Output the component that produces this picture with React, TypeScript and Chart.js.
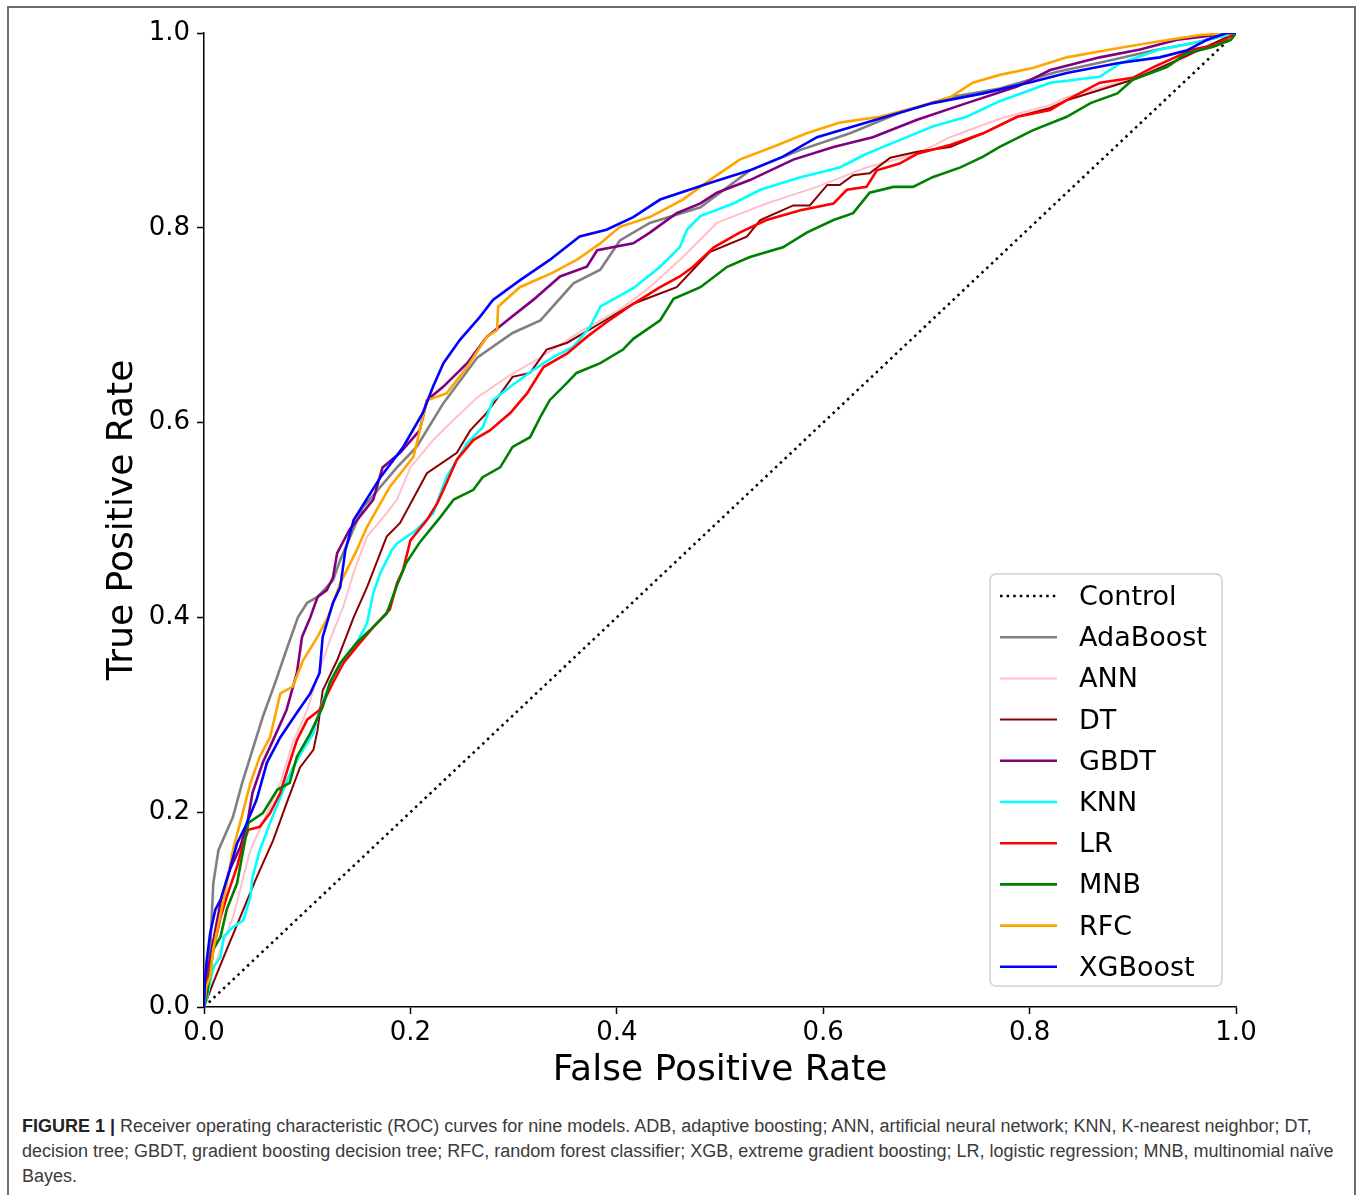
import React, { useEffect, useRef } from "react";
import { Chart, registerables } from "chart.js";

Chart.register(...registerables);

type Pt = [number, number];

const modelNames = ["Control", "AdaBoost", "ANN", "DT", "GBDT", "KNN", "LR", "MNB", "RFC", "XGBoost"];
const modelColors = ["#000000", "#808080", "#ffc0cb", "#8b0000", "#800080", "#00ffff", "#ff0000", "#008000", "#ffa500", "#0000ff"];
const tickValues = [0, 0.2, 0.4, 0.6, 0.8, 1.0];

const control: Pt[] = [[0, 0], [1, 1]];

const adaBoost: Pt[] = [[0,0],[0.003,0.048],[0.006,0.059],[0.009,0.127],[0.014,0.161],[0.028,0.195],[0.037,0.23],[0.047,0.264],[0.057,0.298],[0.069,0.333],[0.080,0.367],[0.091,0.400],[0.100,0.415],[0.110,0.421],[0.125,0.438],[0.132,0.459],[0.154,0.513],[0.187,0.554],[0.206,0.575],[0.232,0.620],[0.265,0.667],[0.299,0.692],[0.326,0.705],[0.358,0.743],[0.384,0.757],[0.403,0.787],[0.432,0.805],[0.481,0.821],[0.529,0.859],[0.578,0.880],[0.626,0.897],[0.674,0.918],[0.723,0.934],[0.771,0.943],[0.826,0.96],[0.87,0.97],[0.92,0.982],[0.96,0.99],[1,1]];

const ann: Pt[] = [[0,0],[0.006,0.028],[0.016,0.059],[0.028,0.092],[0.045,0.161],[0.061,0.199],[0.074,0.23],[0.086,0.271],[0.1,0.305],[0.11,0.339],[0.122,0.377],[0.135,0.411],[0.145,0.446],[0.158,0.483],[0.177,0.507],[0.187,0.521],[0.2,0.554],[0.222,0.582],[0.245,0.606],[0.265,0.626],[0.294,0.647],[0.326,0.667],[0.367,0.695],[0.403,0.716],[0.432,0.739],[0.464,0.77],[0.497,0.805],[0.545,0.825],[0.594,0.842],[0.642,0.862],[0.691,0.876],[0.723,0.893],[0.771,0.912],[0.820,0.926],[0.836,0.934],[0.885,0.949],[0.933,0.965],[0.965,0.983],[1,1]];

const dt: Pt[] = [[0,0],[0.009,0.025],[0.022,0.059],[0.035,0.092],[0.051,0.133],[0.067,0.171],[0.08,0.209],[0.093,0.246],[0.106,0.264],[0.11,0.284],[0.115,0.325],[0.129,0.356],[0.145,0.4],[0.158,0.431],[0.177,0.483],[0.19,0.497],[0.216,0.548],[0.245,0.569],[0.258,0.592],[0.274,0.61],[0.299,0.647],[0.316,0.651],[0.332,0.675],[0.352,0.682],[0.384,0.702],[0.416,0.722],[0.458,0.739],[0.49,0.775],[0.526,0.791],[0.539,0.808],[0.571,0.823],[0.587,0.823],[0.604,0.844],[0.616,0.844],[0.629,0.854],[0.645,0.856],[0.665,0.872],[0.691,0.878],[0.723,0.883],[0.755,0.897],[0.788,0.914],[0.82,0.923],[0.836,0.931],[0.9,0.952],[0.949,0.975],[1,1]];

const gbdt: Pt[] = [[0,0],[0.002,0.03],[0.006,0.051],[0.016,0.107],[0.025,0.141],[0.035,0.164],[0.042,0.189],[0.047,0.22],[0.057,0.251],[0.067,0.274],[0.08,0.305],[0.09,0.343],[0.095,0.38],[0.103,0.4],[0.11,0.421],[0.119,0.428],[0.125,0.441],[0.129,0.466],[0.141,0.49],[0.164,0.521],[0.173,0.554],[0.19,0.569],[0.209,0.592],[0.216,0.623],[0.232,0.637],[0.255,0.661],[0.274,0.688],[0.294,0.705],[0.319,0.726],[0.345,0.75],[0.371,0.76],[0.381,0.777],[0.416,0.784],[0.432,0.795],[0.458,0.815],[0.481,0.825],[0.497,0.836],[0.529,0.849],[0.571,0.870],[0.610,0.883],[0.648,0.893],[0.691,0.911],[0.739,0.928],[0.788,0.945],[0.820,0.962],[0.868,0.975],[0.907,0.983],[0.943,0.993],[0.981,0.998],[1,1]];

const knn: Pt[] = [[0,0],[0.003,0.01],[0.009,0.041],[0.016,0.051],[0.019,0.072],[0.028,0.082],[0.038,0.089],[0.045,0.113],[0.047,0.133],[0.054,0.161],[0.064,0.189],[0.077,0.223],[0.086,0.246],[0.096,0.264],[0.106,0.281],[0.112,0.305],[0.122,0.333],[0.132,0.353],[0.148,0.374],[0.158,0.394],[0.164,0.425],[0.171,0.446],[0.182,0.469],[0.187,0.476],[0.206,0.49],[0.222,0.507],[0.235,0.544],[0.255,0.579],[0.27,0.595],[0.28,0.623],[0.297,0.637],[0.319,0.654],[0.338,0.667],[0.358,0.678],[0.374,0.698],[0.384,0.719],[0.416,0.738],[0.442,0.76],[0.461,0.78],[0.468,0.798],[0.481,0.812],[0.513,0.825],[0.539,0.839],[0.578,0.852],[0.616,0.862],[0.642,0.876],[0.674,0.89],[0.706,0.904],[0.739,0.914],[0.771,0.93],[0.82,0.949],[0.868,0.955],[0.888,0.969],[0.926,0.983],[0.965,0.991],[1,1]];

const lr: Pt[] = [[0,0],[0.003,0.025],[0.009,0.059],[0.016,0.092],[0.022,0.113],[0.032,0.144],[0.038,0.168],[0.043,0.182],[0.054,0.185],[0.064,0.199],[0.074,0.22],[0.083,0.251],[0.09,0.274],[0.1,0.295],[0.112,0.305],[0.125,0.333],[0.135,0.353],[0.148,0.37],[0.164,0.39],[0.18,0.408],[0.187,0.435],[0.193,0.449],[0.2,0.479],[0.216,0.5],[0.226,0.517],[0.235,0.538],[0.245,0.562],[0.261,0.582],[0.277,0.592],[0.297,0.61],[0.313,0.63],[0.329,0.657],[0.352,0.671],[0.371,0.688],[0.39,0.703],[0.416,0.722],[0.442,0.739],[0.461,0.75],[0.474,0.76],[0.494,0.78],[0.519,0.795],[0.545,0.808],[0.578,0.818],[0.61,0.825],[0.623,0.839],[0.642,0.842],[0.652,0.859],[0.674,0.866],[0.691,0.876],[0.723,0.885],[0.755,0.897],[0.788,0.914],[0.82,0.921],[0.836,0.931],[0.868,0.949],[0.9,0.954],[0.92,0.965],[0.958,0.983],[0.981,0.988],[1,1]];

const mnb: Pt[] = [[0,0],[0.003,0.014],[0.009,0.059],[0.016,0.072],[0.022,0.1],[0.032,0.127],[0.038,0.161],[0.043,0.189],[0.057,0.199],[0.071,0.223],[0.083,0.23],[0.09,0.257],[0.103,0.281],[0.115,0.308],[0.122,0.333],[0.132,0.353],[0.148,0.374],[0.161,0.387],[0.177,0.404],[0.187,0.433],[0.196,0.456],[0.209,0.477],[0.229,0.503],[0.242,0.521],[0.261,0.531],[0.27,0.544],[0.287,0.554],[0.299,0.575],[0.316,0.585],[0.326,0.606],[0.335,0.623],[0.352,0.641],[0.361,0.651],[0.384,0.661],[0.406,0.675],[0.416,0.686],[0.442,0.705],[0.455,0.727],[0.481,0.739],[0.507,0.76],[0.529,0.77],[0.561,0.78],[0.584,0.795],[0.61,0.808],[0.629,0.815],[0.645,0.836],[0.668,0.842],[0.687,0.842],[0.706,0.852],[0.733,0.862],[0.755,0.873],[0.771,0.883],[0.803,0.9],[0.836,0.914],[0.859,0.928],[0.885,0.938],[0.9,0.952],[0.933,0.965],[0.952,0.979],[0.978,0.986],[0.995,0.993],[1,1]];

const rfc: Pt[] = [[0,0],[0.002,0.02],[0.006,0.031],[0.009,0.059],[0.017,0.1],[0.022,0.127],[0.028,0.161],[0.035,0.189],[0.045,0.23],[0.054,0.257],[0.064,0.277],[0.074,0.322],[0.086,0.329],[0.096,0.356],[0.11,0.38],[0.12,0.4],[0.132,0.435],[0.148,0.469],[0.158,0.493],[0.18,0.534],[0.203,0.565],[0.216,0.623],[0.235,0.630],[0.255,0.657],[0.274,0.688],[0.284,0.695],[0.285,0.719],[0.306,0.739],[0.338,0.754],[0.361,0.767],[0.384,0.784],[0.403,0.801],[0.432,0.811],[0.464,0.829],[0.490,0.849],[0.519,0.870],[0.551,0.883],[0.584,0.897],[0.616,0.908],[0.655,0.914],[0.691,0.924],[0.723,0.934],[0.745,0.949],[0.771,0.957],[0.803,0.964],[0.836,0.975],[0.878,0.983],[0.917,0.990],[0.965,0.998],[1,1]];

const xgBoost: Pt[] = [[0,0],[0.001,0.03],[0.003,0.051],[0.006,0.076],[0.011,0.100],[0.016,0.110],[0.025,0.141],[0.032,0.168],[0.040,0.185],[0.051,0.213],[0.061,0.251],[0.074,0.277],[0.090,0.302],[0.103,0.322],[0.112,0.343],[0.115,0.380],[0.125,0.415],[0.132,0.431],[0.137,0.469],[0.145,0.5],[0.171,0.544],[0.193,0.575],[0.212,0.61],[0.222,0.637],[0.232,0.661],[0.248,0.685],[0.267,0.708],[0.280,0.726],[0.306,0.746],[0.335,0.767],[0.364,0.791],[0.39,0.798],[0.416,0.811],[0.442,0.829],[0.49,0.846],[0.529,0.859],[0.561,0.873],[0.594,0.893],[0.642,0.908],[0.674,0.918],[0.706,0.928],[0.755,0.938],[0.803,0.95],[0.836,0.959],[0.885,0.969],[0.926,0.975],[0.952,0.982],[0.972,0.993],[0.991,1],[1,1]];

const seriesData: Pt[][] = [control, adaBoost, ann, dt, gbdt, knn, lr, mnb, rfc, xgBoost];

const FONT = "'DejaVu Sans', sans-serif";

const boxLegend = {
  id: "boxLegend",
  afterDatasetsDraw(chart: any) {
    const { ctx, chartArea } = chart;
    const w = 232;
    const h = 412;
    const right = chartArea.right - 14;
    const bottom = chartArea.bottom - 21;
    const left = right - w;
    const top = bottom - h;
    ctx.save();
    ctx.beginPath();
    ctx.roundRect(left, top, w, h, 6);
    ctx.fillStyle = "rgba(255,255,255,0.8)";
    ctx.fill();
    ctx.strokeStyle = "#d0d0d0";
    ctx.lineWidth = 1.5;
    ctx.stroke();
    chart.data.datasets.forEach((ds: any, i: number) => {
      const y = top + 22 + i * 41.2;
      ctx.beginPath();
      ctx.setLineDash(ds.borderDash || []);
      ctx.strokeStyle = ds.borderColor;
      ctx.lineWidth = ds.borderWidth;
      ctx.moveTo(left + 10, y);
      ctx.lineTo(left + 67, y);
      ctx.stroke();
      ctx.setLineDash([]);
      ctx.fillStyle = "#000";
      ctx.font = `27px ${FONT}`;
      ctx.textBaseline = "middle";
      ctx.textAlign = "left";
      ctx.fillText(ds.label, left + 89, y + 2);
    });
    ctx.restore();
  },
};

export default function App() {
  const ref = useRef<HTMLCanvasElement>(null);

  useEffect(() => {
    if (!ref.current) return;
    const n = modelNames.length;
    const datasets = modelNames.map((name, i) => ({
      label: name,
      data: seriesData[i].map(([x, y]) => ({ x, y })),
      borderColor: modelColors[i],
      backgroundColor: modelColors[i],
      borderWidth: i === 0 ? 2.5 : name === "ANN" || name === "DT" ? 2 : 2.6,
      borderDash: i === 0 ? [2.5, 4.1] : [],
      pointRadius: 0,
      tension: 0,
      fill: false,
      order: n - 1 - i,
    }));
    const axisCommon = {
      type: "linear" as const,
      min: 0,
      max: 1,
      grid: {
        display: true,
        drawOnChartArea: false,
        drawTicks: true,
        tickLength: 7,
        tickWidth: 1.5,
        tickColor: "#000",
      },
      border: { display: true, color: "#000", width: 1.5 },
    };
    const chart = new Chart(ref.current, {
      type: "line",
      data: { datasets },
      plugins: [boxLegend],
      options: {
        animation: false,
        responsive: false,
        devicePixelRatio: 1,
        layout: { padding: { left: 0, top: 25, right: 114, bottom: 0 } },
        plugins: { legend: { display: false }, tooltip: { enabled: false } },
        scales: {
          x: {
            ...axisCommon,
            afterFit: (s: any) => { s.height = 81; },
            afterBuildTicks: (s: any) => { s.ticks = tickValues.map((v) => ({ value: v })); },
            ticks: {
              color: "#000",
              font: { family: FONT, size: 26 },
              padding: 4,
              maxRotation: 0,
              autoSkip: false,
              callback: (v: any) => Number(v).toFixed(1),
            },
            title: {
              display: true,
              text: "False Positive Rate",
              color: "#000",
              font: { family: FONT, size: 36 },
              padding: { top: 0, bottom: -4 },
            },
          },
          y: {
            ...axisCommon,
            afterFit: (s: any) => { s.width = 194; },
            afterBuildTicks: (s: any) => { s.ticks = tickValues.map((v) => ({ value: v })); },
            ticks: {
              color: "#000",
              font: { family: FONT, size: 26 },
              padding: 7,
              autoSkip: false,
              callback: (v: any) => Number(v).toFixed(1),
            },
            title: {
              display: true,
              text: "True Positive Rate",
              color: "#000",
              font: { family: FONT, size: 36 },
              padding: { top: 91, bottom: 0 },
            },
          },
        },
      },
    } as any);
    return () => chart.destroy();
  }, []);

  return (
    <div
      style={{
        position: "fixed",
        left: 7,
        top: 6,
        width: 1349,
        height: 1200,
        border: "2px solid #6e6e6e",
        boxSizing: "border-box",
        background: "#fff",
      }}
    >
      <canvas ref={ref} width={1340} height={1080} style={{ position: "absolute", left: 1, top: 0, width: 1340, height: 1080 }} />
      <div
        style={{
          position: "absolute",
          left: 13,
          top: 1106,
          fontFamily: "'Liberation Sans', Arial, sans-serif",
          fontSize: 18,
          lineHeight: "25px",
          color: "#3a3a3a",
          whiteSpace: "nowrap",
        }}
      >
        <div>
          <b style={{ color: "#222" }}>FIGURE 1 |</b> Receiver operating characteristic (ROC) curves for nine models. ADB, adaptive boosting; ANN, artificial neural network; KNN, K-nearest neighbor; DT,
        </div>
        <div>
          decision tree; GBDT, gradient boosting decision tree; RFC, random forest classifier; XGB, extreme gradient boosting; LR, logistic regression; MNB, multinomial naïve
        </div>
        <div>Bayes.</div>
      </div>
    </div>
  );
}
